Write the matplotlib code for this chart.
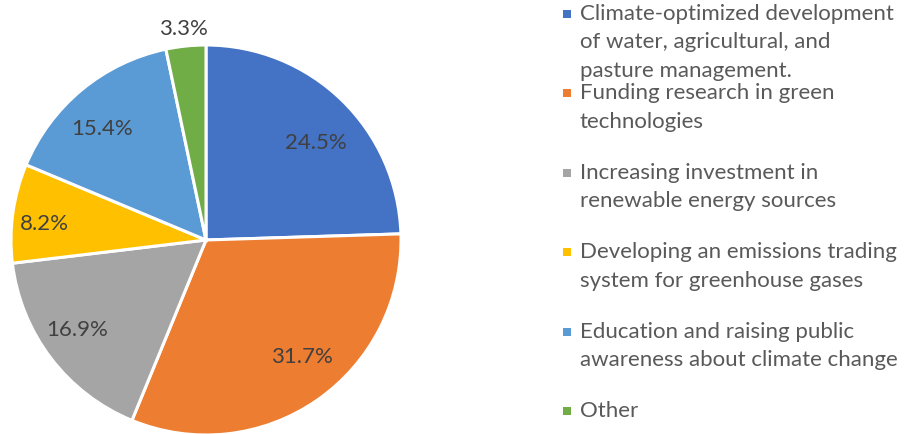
import matplotlib
matplotlib.use("Agg")
import matplotlib.pyplot as plt
import numpy as np

labels = [
    "Climate-optimized development\nof water, agricultural, and\npasture management.",
    "Funding research in green\ntechnologies",
    "Increasing investment in\nrenewable energy sources",
    "Developing an emissions trading\nsystem for greenhouse gases",
    "Education and raising public\nawareness about climate change",
    "Other",
]
shares = [24.5, 31.7, 16.9, 8.2, 15.4, 3.3]
colors = ["#4472C4", "#ED7D31", "#A5A5A5", "#FFC000", "#5B9BD5", "#70AD47"]

plt.rcParams['font.family'] = ['Lato', 'DejaVu Sans']

W, H = 908, 434
fig = plt.figure(figsize=(W / 100, H / 100), dpi=100)
ax = fig.add_axes([0, 0, 1, 1])

cx, cy, r = 206, H - 240, 195
wedges, _ = ax.pie(shares, colors=colors, startangle=90, counterclock=False,
                   center=(cx, cy), radius=r, frame=True,
                   wedgeprops=dict(edgecolor='white', linewidth=2.2))
ax.set_xlim(0, W)
ax.set_ylim(0, H)
ax.set_aspect('equal')
ax.axis('off')

# label distance (fraction of radius) and angle nudge (deg) per slice
dist = [0.76, 0.77, 0.80, 0.836, 0.79, 1.10]
nudge = [-4, 5, -3, 1.6, 3, 0]
for w, v, d, n in zip(wedges, shares, dist, nudge):
    ang = np.deg2rad((w.theta1 + w.theta2) / 2 + n)
    x = cx + d * r * np.cos(ang)
    y = cy + d * r * np.sin(ang)
    ax.text(x, y - 8, f"{v}%", ha='center', va='baseline',
            fontsize=16, color='#404040')

# legend drawn by hand, one line at a time
for i, (lab, c) in enumerate(zip(labels, colors)):
    base = 20 + i * 79.4
    ax.add_patch(plt.Rectangle((563, H - base + 2), 8, 8, color=c, lw=0))
    for j, line in enumerate(lab.split("\n")):
        ax.text(580, H - (base + j * 28.5), line, ha='left', va='baseline',
                fontsize=16, color='#595959')

fig.savefig("out.png", dpi=100)
